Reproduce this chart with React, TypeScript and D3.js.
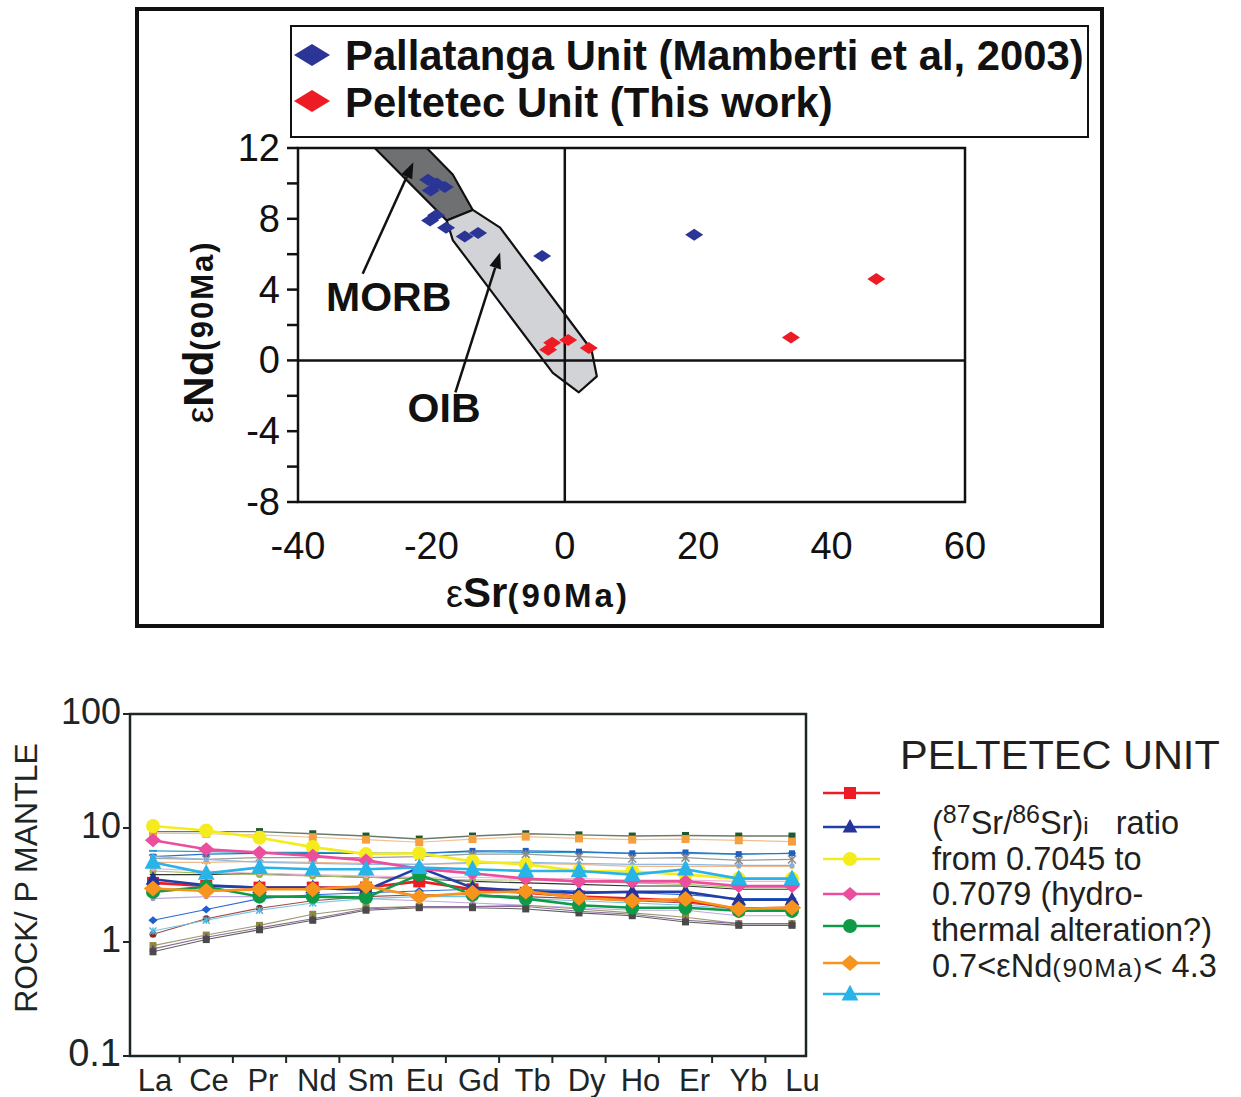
import React from "react";
import * as d3 from "d3";

// ---------- TOP CHART DATA ----------
const X_TICKS_TOP = [-40, -20, 0, 20, 40, 60];
const Y_TICKS_TOP = [12, 8, 4, 0, -4, -8];
const Y_MINOR_TOP = [10, 6, 2, -2, -6];

const pallatangaSr = [-20.5, -19.2, -18.0, -20.1, -19.3, -20.2, -17.8, -15.0, -13.0, -3.4, 19.4];
const pallatangaNd = [10.2, 10.0, 9.8, 9.6, 8.2, 7.9, 7.5, 7.0, 7.2, 5.9, 7.1];

const peltetecSr = [-1.9, -2.5, 0.5, 3.6, 33.9, 46.7];
const peltetecNd = [1.0, 0.6, 1.15, 0.7, 1.3, 4.6];

const morbSr = [-28.5, -20.7, -16.8, -13.8, -17.7];
const morbNd = [12, 12, 10.5, 8.5, 7.9];
const oibSr = [-17.7, -13.8, -9.7, 4.0, 4.8, 2.1, -1.8, -16.8];
const oibNd = [7.9, 8.5, 7.5, 0.6, -0.9, -1.8, -0.7, 6.8];

// ---------- BOTTOM CHART DATA ----------
const REE = ["La", "Ce", "Pr", "Nd", "Sm", "Eu", "Gd", "Tb", "Dy", "Ho", "Er", "Yb", "Lu"];
const Y_TICKS_BOT = [100, 10, 1, 0.1];

// Peltetec samples (legend series)
const peltRed = [3.3, 3.1, 3.0, 3.0, 3.0, 3.4, 2.9, 2.7, 2.5, 2.4, 2.3, 1.95, 2.0];
const peltBlue = [3.55, 3.15, 3.0, 3.0, 2.85, 4.5, 3.0, 2.8, 2.7, 2.75, 2.75, 2.35, 2.35];
const peltYellow = [10.4, 9.5, 8.2, 6.8, 5.9, 6.0, 5.1, 4.8, 4.2, 4.15, 3.9, 3.6, 3.6];
const peltPink = [7.8, 6.5, 6.1, 5.7, 5.2, 4.4, 4.0, 3.6, 3.4, 3.4, 3.4, 3.1, 3.1];
const peltGreen = [2.75, 3.05, 2.5, 2.5, 2.45, 3.9, 2.6, 2.4, 2.1, 2.0, 2.0, 1.88, 1.88];
const peltOrange = [2.95, 2.8, 2.9, 2.9, 3.1, 2.5, 2.7, 2.78, 2.45, 2.3, 2.38, 1.95, 2.0];
const peltCyan = [5.0, 4.0, 4.5, 4.35, 4.35, 4.5, 4.35, 4.2, 4.2, 3.9, 4.35, 3.6, 3.6];

// other samples (thin lines)
const thinA = [9.3, 9.3, 9.3, 8.9, 8.5, 8.0, 8.5, 8.9, 8.7, 8.5, 8.6, 8.5, 8.5];
const thinB = [9.0, 8.9, 8.7, 8.3, 7.9, 7.5, 8.0, 8.4, 8.1, 7.9, 8.0, 7.8, 7.6];
const thinC = [6.3, 6.2, 6.1, 6.1, 6.0, 6.0, 6.2, 6.1, 6.1, 6.0, 6.0, 5.9, 6.0];
const thinD = [5.6, 5.9, 6.0, 6.0, 6.0, 6.0, 6.3, 6.3, 6.2, 6.0, 6.1, 5.9, 6.0];
const thinE = [5.4, 5.3, 5.5, 5.5, 5.5, 5.6, 5.9, 5.9, 5.6, 5.4, 5.5, 5.2, 5.3];
const thinF = [5.0, 5.0, 5.1, 5.0, 4.9, 4.8, 4.9, 4.9, 4.8, 4.6, 4.6, 4.6, 4.6];
const thinG = [5.6, 5.3, 5.0, 4.9, 4.8, 4.8, 5.0, 5.0, 4.9, 4.8, 4.8, 4.7, 4.7];
const thinH = [3.9, 3.9, 4.0, 3.8, 3.7, 3.6, 3.4, 3.3, 3.2, 3.1, 3.1, 2.9, 2.9];
const thinI = [4.2, 4.0, 3.9, 3.8, 3.7, 3.6, 3.5, 3.5, 3.4, 3.3, 3.2, 3.0, 3.0];
const thinJ = [4.4, 4.2, 4.0, 3.9, 3.8, 3.7, 3.7, 3.6, 3.6, 3.5, 3.5, 3.4, 3.4];
const thinK = [2.4, 2.5, 2.5, 2.5, 2.4, 2.3, 2.2, 2.1, 2.0, 1.9, 1.9, 1.7, 1.7];
const thinL = [1.55, 1.93, 2.4, 2.6, 2.7, 2.8, 2.9, 2.9, 2.8, 2.7, 2.6, 2.4, 2.4];
const thinM = [1.17, 1.6, 1.98, 2.3, 2.5, 2.6, 2.6, 2.5, 2.4, 2.3, 2.2, 2.0, 2.0];
const thinN = [1.25, 1.55, 1.9, 2.2, 2.4, 2.5, 2.5, 2.4, 2.3, 2.2, 2.1, 1.95, 1.95];
const thinO = [0.93, 1.15, 1.4, 1.75, 2.0, 2.05, 2.05, 2.1, 1.95, 1.8, 1.65, 1.45, 1.45];
const thinP = [0.87, 1.1, 1.33, 1.6, 1.95, 2.05, 2.05, 2.05, 1.86, 1.75, 1.55, 1.45, 1.45];
const thinQ = [0.82, 1.05, 1.28, 1.55, 1.9, 2.0, 2.0, 1.95, 1.8, 1.7, 1.5, 1.4, 1.4];

type Series = { values: number[]; color: string; line: string; marker: string; lw: number; ms: number };

const thinSeries: Series[] = [
  { values: thinA, color: "#1d5a30", line: "#6b7a6b", marker: "square", lw: 1.4, ms: 3.5 },
  { values: thinB, color: "#f5a040", line: "#f0c090", marker: "square", lw: 1.2, ms: 4 },
  { values: thinC, color: "#2aa0c8", line: "#2aa0c8", marker: "dash", lw: 1.2, ms: 4 },
  { values: thinD, color: "#2060c0", line: "#2a70c8", marker: "square", lw: 1.2, ms: 3 },
  { values: thinE, color: "#8a8a8a", line: "#9a9a9a", marker: "x", lw: 1.2, ms: 4 },
  { values: thinF, color: "#f0b070", line: "#f0b888", marker: "circle", lw: 1.2, ms: 2.5 },
  { values: thinG, color: "#80b0e0", line: "#90b8e0", marker: "circle", lw: 1.2, ms: 2.5 },
  { values: thinH, color: "#222222", line: "#333333", marker: "diamond", lw: 1.1, ms: 3 },
  { values: thinI, color: "#8cb840", line: "#9cc060", marker: "circle", lw: 1.1, ms: 3.5 },
  { values: thinJ, color: "#f0a0c8", line: "#f0b0d0", marker: "circle", lw: 1.1, ms: 2.5 },
  { values: thinK, color: "#b090d0", line: "#c0a8e0", marker: "circle", lw: 1.1, ms: 2.5 },
  { values: thinL, color: "#1f5fd0", line: "#2a6ad8", marker: "diamond", lw: 1.1, ms: 4 },
  { values: thinM, color: "#8b2a20", line: "#a04840", marker: "circle", lw: 1.1, ms: 3.5 },
  { values: thinN, color: "#50b8e0", line: "#70c4e4", marker: "x", lw: 1.1, ms: 3.5 },
  { values: thinO, color: "#8a8a40", line: "#9a9a70", marker: "square", lw: 1.1, ms: 3.5 },
  { values: thinP, color: "#7a3a8a", line: "#8a6a9a", marker: "triangle", lw: 1.1, ms: 3.5 },
  { values: thinQ, color: "#4a4a4a", line: "#606060", marker: "square", lw: 1.1, ms: 3.5 },
];

const mainSeries: Series[] = [
  { values: peltRed, color: "#ed1c24", line: "#ed1c24", marker: "square", lw: 2.6, ms: 6 },
  { values: peltBlue, color: "#24349a", line: "#2040a8", marker: "triangle", lw: 2.6, ms: 7 },
  { values: peltYellow, color: "#f4ec1c", line: "#f4ec1c", marker: "circle", lw: 2.6, ms: 7 },
  { values: peltPink, color: "#ec4e9e", line: "#ec4e9e", marker: "diamond", lw: 2.6, ms: 7 },
  { values: peltGreen, color: "#0f9a48", line: "#0f9a48", marker: "circle", lw: 2.6, ms: 7 },
  { values: peltOrange, color: "#f7941d", line: "#f7941d", marker: "diamond", lw: 2.6, ms: 8 },
  { values: peltCyan, color: "#28b4e8", line: "#28b4e8", marker: "triangle", lw: 2.6, ms: 8 },
];

const FONT = "'Liberation Sans', Arial, Helvetica, sans-serif";

function markerPath(type: string, s: number): string {
  switch (type) {
    case "square":
      return `M${-s},${-s}h${2 * s}v${2 * s}h${-2 * s}Z`;
    case "triangle":
      return `M0,${-s * 1.15}L${s * 1.05},${s * 0.8}L${-s * 1.05},${s * 0.8}Z`;
    case "diamond":
      return `M0,${-s}L${s * 1.15},0L0,${s}L${-s * 1.15},0Z`;
    case "dash":
      return `M${-s},-1h${2 * s}v2h${-2 * s}Z`;
    default:
      return "";
  }
}

function Marker({ type, s, color, x, y }: { type: string; s: number; color: string; x: number; y: number }) {
  if (type === "circle") return <circle cx={x} cy={y} r={s} fill={color} />;
  if (type === "x")
    return (
      <g transform={`translate(${x},${y})`} stroke={color} strokeWidth={1.5}>
        <line x1={-s} y1={-s} x2={s} y2={s} />
        <line x1={-s} y1={s} x2={s} y2={-s} />
        <line x1={0} y1={-s} x2={0} y2={s} />
      </g>
    );
  return <path d={markerPath(type, s)} transform={`translate(${x},${y})`} fill={color} />;
}

export default function App() {
  // top scales
  const xT = d3.scaleLinear().domain([-40, 60]).range([298, 965]);
  const yT = d3.scaleLinear().domain([-8, 12]).range([502, 148]);
  // bottom scales
  const xB = d3.scalePoint<string>().domain(REE).range([153, 792]);
  const yB = d3.scaleLog().domain([0.1, 100]).range([1056, 714]);
  const step = xB.step();

  const polyT = (xs: number[], ys: number[]) =>
    "M" + xs.map((v, i) => `${xT(v)},${yT(ys[i])}`).join("L") + "Z";

  const lineB = d3
    .line<number>()
    .x((_, i) => xB(REE[i]) as number)
    .y((v) => yB(v));

  const diamondTop = (x: number, y: number, color: string, key: string) => (
    <path key={key} d={`M${x},${y - 6}L${x + 9},${y}L${x},${y + 6}L${x - 9},${y}Z`} fill={color} />
  );

  const arrow = (x1: number, y1: number, x2: number, y2: number) => {
    const ang = Math.atan2(y2 - y1, x2 - x1);
    const L = 16, W = 6;
    const bx = x2 - L * Math.cos(ang), by = y2 - L * Math.sin(ang);
    const px = -Math.sin(ang) * W, py = Math.cos(ang) * W;
    return (
      <g>
        <line x1={x1} y1={y1} x2={bx} y2={by} stroke="#111" strokeWidth={2.5} />
        <path d={`M${x2},${y2}L${bx + px},${by + py}L${bx - px},${by - py}Z`} fill="#111" />
      </g>
    );
  };

  const legendY = [793, 827, 859, 894, 926, 963, 994];

  return (
    <svg
      width={1241}
      height={1097}
      style={{ position: "absolute", left: 0, top: 0, background: "#fff" }}
      fontFamily={FONT}
    >
      {/* ================= TOP CHART ================= */}
      <rect x={137} y={9} width={965} height={617} fill="none" stroke="#111" strokeWidth={4} />
      {/* legend */}
      <rect x={291} y={26} width={797} height={111} fill="#fff" stroke="#111" strokeWidth={2} />
      <path d="M312,44L330,55L312,66L294,55Z" fill="#2b3595" />
      <path d="M312,90L330,101L312,112L294,101Z" fill="#ed1c24" />
      <text x={345} y={70} fontSize={41.8} fontWeight="bold" fill="#111">
        Pallatanga Unit (Mamberti et al, 2003)
      </text>
      <text x={345} y={117} fontSize={41.8} fontWeight="bold" fill="#111">
        Peltetec Unit (This work)
      </text>

      {/* fields */}
      <path d={polyT(morbSr, morbNd)} fill="#6e7072" stroke="#111" strokeWidth={2.2} strokeLinejoin="round" />
      <path d={polyT(oibSr, oibNd)} fill="#d2d3d7" stroke="#111" strokeWidth={2.2} strokeLinejoin="round" />

      {/* plot box and zero lines */}
      <rect x={xT(-40)} y={yT(12)} width={xT(60) - xT(-40)} height={yT(-8) - yT(12)} fill="none" stroke="#111" strokeWidth={2.5} />
      <line x1={xT(-40)} x2={xT(60)} y1={yT(0)} y2={yT(0)} stroke="#111" strokeWidth={2.5} />
      <line x1={xT(0)} x2={xT(0)} y1={yT(12)} y2={yT(-8)} stroke="#111" strokeWidth={2.5} />

      {/* y ticks */}
      {[...Y_TICKS_TOP, ...Y_MINOR_TOP].map((t) => (
        <line key={"yt" + t} x1={xT(-40) - 11} x2={xT(-40)} y1={yT(t)} y2={yT(t)} stroke="#111" strokeWidth={2.5} />
      ))}
      {Y_TICKS_TOP.map((t) => (
        <text key={"yl" + t} x={280} y={yT(t) + 13} fontSize={38} textAnchor="end" fill="#111">
          {t}
        </text>
      ))}
      {X_TICKS_TOP.map((t) => (
        <text key={"xl" + t} x={xT(t)} y={559} fontSize={38} textAnchor="middle" fill="#111">
          {t}
        </text>
      ))}

      {/* axis titles */}
      <text x={538} y={607} textAnchor="middle" fill="#111">
        <tspan fontSize={38}>ε</tspan>
        <tspan fontSize={42} fontWeight="bold">Sr</tspan>
        <tspan fontSize={33} fontWeight="bold" letterSpacing={3}>(90Ma)</tspan>
      </text>
      <text transform="translate(213,332) rotate(-90)" textAnchor="middle" fill="#111">
        <tspan fontSize={38}>ε</tspan>
        <tspan fontSize={42} fontWeight="bold">Nd</tspan>
        <tspan fontSize={31} fontWeight="bold" letterSpacing={2}>(90Ma)</tspan>
      </text>

      {/* annotations */}
      {arrow(xT(-30.3), yT(4.9), xT(-22.7), yT(11.2))}
      {arrow(xT(-16.4), yT(-1.8), xT(-9.7), yT(6.1))}
      <text x={xT(-26.4)} y={yT(3.6) + 14} fontSize={41} fontWeight="bold" textAnchor="middle" fill="#111">
        MORB
      </text>
      <text x={xT(-18.1)} y={yT(-2.7) + 14} fontSize={41} fontWeight="bold" textAnchor="middle" fill="#111">
        OIB
      </text>

      {/* points */}
      {pallatangaSr.map((v, i) => diamondTop(xT(v), yT(pallatangaNd[i]), "#2b3595", "pa" + i))}
      {peltetecSr.map((v, i) => diamondTop(xT(v), yT(peltetecNd[i]), "#ed1c24", "pe" + i))}

      {/* ================= BOTTOM CHART ================= */}
      {/* thin series */}
      {thinSeries.map((s, k) => (
        <g key={"th" + k}>
          <path d={lineB(s.values) || ""} fill="none" stroke={s.line} strokeWidth={s.lw} />
          {s.values.map((v, i) => (
            <Marker key={i} type={s.marker} s={s.ms} color={s.color} x={xB(REE[i]) as number} y={yB(v)} />
          ))}
        </g>
      ))}
      {/* main series */}
      {mainSeries.map((s, k) => (
        <g key={"mn" + k}>
          <path d={lineB(s.values) || ""} fill="none" stroke={s.line} strokeWidth={s.lw} />
          {s.values.map((v, i) => (
            <Marker key={i} type={s.marker} s={s.ms} color={s.color} x={xB(REE[i]) as number} y={yB(v)} />
          ))}
        </g>
      ))}

      {/* box */}
      <rect x={130} y={yB(100)} width={806 - 130} height={yB(0.1) - yB(100)} fill="none" stroke="#1c2626" strokeWidth={2.5} />
      {Y_TICKS_BOT.map((t) => (
        <g key={"by" + t}>
          <line x1={123} x2={130} y1={yB(t)} y2={yB(t)} stroke="#1c2626" strokeWidth={2} />
          <text x={121} y={yB(t) + 10} fontSize={t < 1 ? 38 : 36} textAnchor="end" fill="#1c2626">
            {t}
          </text>
        </g>
      ))}
      {REE.slice(0, -1).map((c) => (
        <line
          key={"bt" + c}
          x1={(xB(c) as number) + step / 2}
          x2={(xB(c) as number) + step / 2}
          y1={yB(0.1)}
          y2={yB(0.1) + 7}
          stroke="#1c2626"
          strokeWidth={2}
        />
      ))}
      {REE.map((c, i) => (
        <text key={"bl" + c} x={(xB(c) as number) + 2 + i * 0.7} y={1091} fontSize={31} textAnchor="middle" fill="#1c2626">
          {c}
        </text>
      ))}
      <text transform="translate(37,878) rotate(-90)" fontSize={32} textAnchor="middle" fill="#1c2626">
        ROCK/ P MANTLE
      </text>

      {/* bottom legend */}
      <text x={900} y={769} fontSize={41.5} fill="#231f20">
        PELTETEC UNIT
      </text>
      {mainSeries.map((s, k) => (
        <g key={"lg" + k}>
          <line x1={823} x2={880} y1={legendY[k]} y2={legendY[k]} stroke={s.line} strokeWidth={2.4} />
          <Marker type={s.marker} s={s.ms} color={s.color} x={850} y={legendY[k]} />
        </g>
      ))}
      <g fontSize={32.5} fill="#231f20">
        <text x={932} y={834}>
          <tspan>(</tspan>
          <tspan fontSize={25} dy={-11}>87</tspan>
          <tspan dy={11}>Sr/</tspan>
          <tspan fontSize={25} dy={-11}>86</tspan>
          <tspan dy={11}>Sr)</tspan>
          <tspan fontSize={24}>i</tspan>
          <tspan>{"\u00a0\u00a0 ratio"}</tspan>
        </text>
        <text x={932} y={870}>from 0.7045 to</text>
        <text x={932} y={905}>0.7079 (hydro-</text>
        <text x={932} y={941}>thermal alteration?)</text>
        <text x={932} y={977}>
          <tspan>0.7&lt;</tspan>
          <tspan>ε</tspan>
          <tspan>Nd</tspan>
          <tspan fontSize={26} letterSpacing={1.5}>(90Ma)</tspan>
          <tspan>&lt; 4.3</tspan>
        </text>
      </g>
    </svg>
  );
}
